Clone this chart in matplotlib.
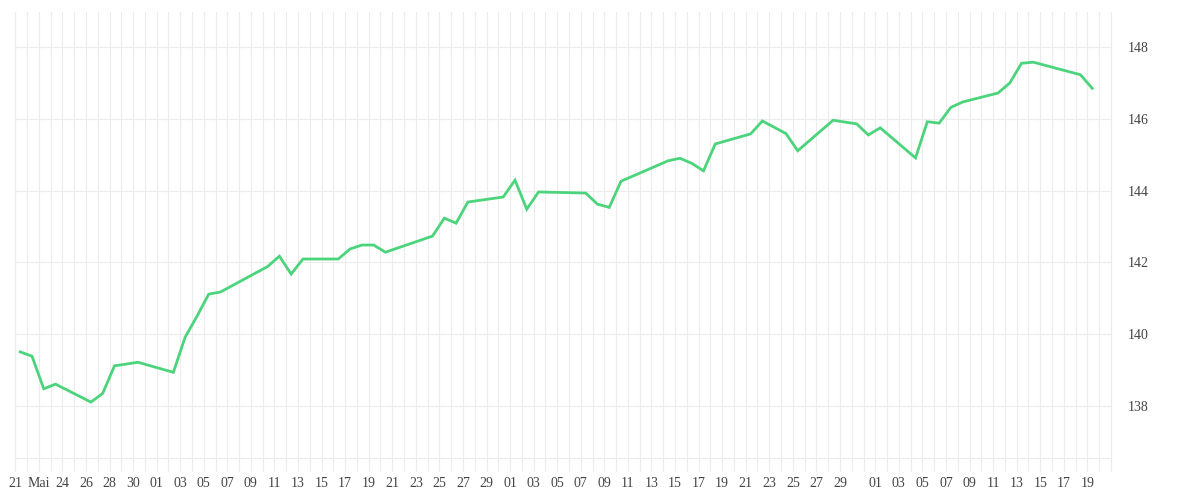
import matplotlib
matplotlib.use("Agg")
import matplotlib.pyplot as plt
import matplotlib.dates as mdates
from matplotlib.ticker import FixedLocator, FixedFormatter
import pandas as pd

# Schlusskurse (Handelstage)
DATES = [
    "2025-05-20", "2025-05-21", "2025-05-22", "2025-05-23", "2025-05-26",
    "2025-05-27", "2025-05-28", "2025-05-30", "2025-06-02", "2025-06-03",
    "2025-06-04", "2025-06-05", "2025-06-06", "2025-06-10", "2025-06-11",
    "2025-06-12", "2025-06-13", "2025-06-16", "2025-06-17", "2025-06-18",
    "2025-06-19", "2025-06-20", "2025-06-24", "2025-06-25", "2025-06-26",
    "2025-06-27", "2025-06-30", "2025-07-01", "2025-07-02", "2025-07-03",
    "2025-07-07", "2025-07-08", "2025-07-09", "2025-07-10", "2025-07-14",
    "2025-07-15", "2025-07-16", "2025-07-17", "2025-07-18", "2025-07-21",
    "2025-07-22", "2025-07-24", "2025-07-25", "2025-07-28", "2025-07-30",
    "2025-07-31", "2025-08-01", "2025-08-04", "2025-08-05", "2025-08-06",
    "2025-08-07", "2025-08-08", "2025-08-11", "2025-08-12", "2025-08-13",
    "2025-08-14", "2025-08-18", "2025-08-19",
]
CLOSE = [
    139.50, 139.38, 138.47, 138.60, 138.10,
    138.34, 139.11, 139.21, 138.93, 139.91,
    140.49, 141.11, 141.17, 141.88, 142.17,
    141.67, 142.09, 142.09, 142.37, 142.48,
    142.48, 142.28, 142.73, 143.23, 143.09,
    143.68, 143.82, 144.29, 143.48, 143.96,
    143.93, 143.62, 143.53, 144.26, 144.83,
    144.90, 144.76, 144.55, 145.30, 145.58,
    145.94, 145.59, 145.11, 145.96, 145.86,
    145.55, 145.75, 144.91, 145.92, 145.88,
    146.32, 146.47, 146.72, 147.00, 147.55,
    147.58, 147.23, 146.85,
]

# Achsenbeschriftung (jeden zweiten Tag)
TICK_DATES = (
    list(pd.date_range("2025-05-20", "2025-07-31", freq="2D"))
    + list(pd.date_range("2025-08-01", "2025-08-19", freq="2D"))
)
TICK_LABELS = [
    "21", "Mai", "24", "26", "28", "30",
    "01", "03", "05", "07", "09", "11", "13", "15", "17", "19",
    "21", "23", "25", "27", "29",
    "01", "03", "05", "07", "09", "11", "13", "15", "17", "19",
    "21", "23", "25", "27", "29", "",
    "01", "03", "05", "07", "09", "11", "13", "15", "17", "19",
]
Y_TICKS = [138, 140, 142, 144, 146, 148]

LINE_COLOR = "#4cd47c"
GRID_COLOR = "#ececec"
TEXT_COLOR = "#444444"
FONT = ["Liberation Serif", "DejaVu Serif"]

plt.rcParams["font.family"] = FONT

fig = plt.figure(figsize=(12, 5), dpi=100)
ax = fig.add_axes([0.01275, 0.084, 0.9130, 0.892])

# Kurse liegen tagsueber, Gitter auf Mitternacht
x = pd.to_datetime(DATES) + pd.Timedelta(hours=10)
ax.plot(x, CLOSE, color=LINE_COLOR, lw=2.0, solid_joinstyle="miter", zorder=3)

ax.set_xlim(pd.Timestamp("2025-05-20"), pd.Timestamp("2025-08-21"))
ax.set_ylim(136.54, 148.98)

tick_nums = mdates.date2num(TICK_DATES)
ax.xaxis.set_major_locator(FixedLocator(tick_nums))
ax.xaxis.set_major_formatter(FixedFormatter(TICK_LABELS))
ax.xaxis.set_minor_locator(mdates.DayLocator())
ax.tick_params(axis="x", which="both", length=9, width=0.8, color=GRID_COLOR,
               labelsize=10, labelcolor=TEXT_COLOR, pad=5)
ax.grid(axis="x", which="both", color=GRID_COLOR, lw=0.8)

ax.yaxis.tick_right()
ax.set_yticks(Y_TICKS)
ax.tick_params(axis="y", length=0, labelsize=10, labelcolor=TEXT_COLOR, pad=12)
ax.grid(axis="y", color=GRID_COLOR, lw=0.8)
ax.set_axisbelow(True)

ax.spines["top"].set_visible(False)
for side in ["left", "right", "bottom"]:
    ax.spines[side].set_color(GRID_COLOR)
    ax.spines[side].set_linewidth(0.8)

fig.savefig("out.png", dpi=100, facecolor="white")
